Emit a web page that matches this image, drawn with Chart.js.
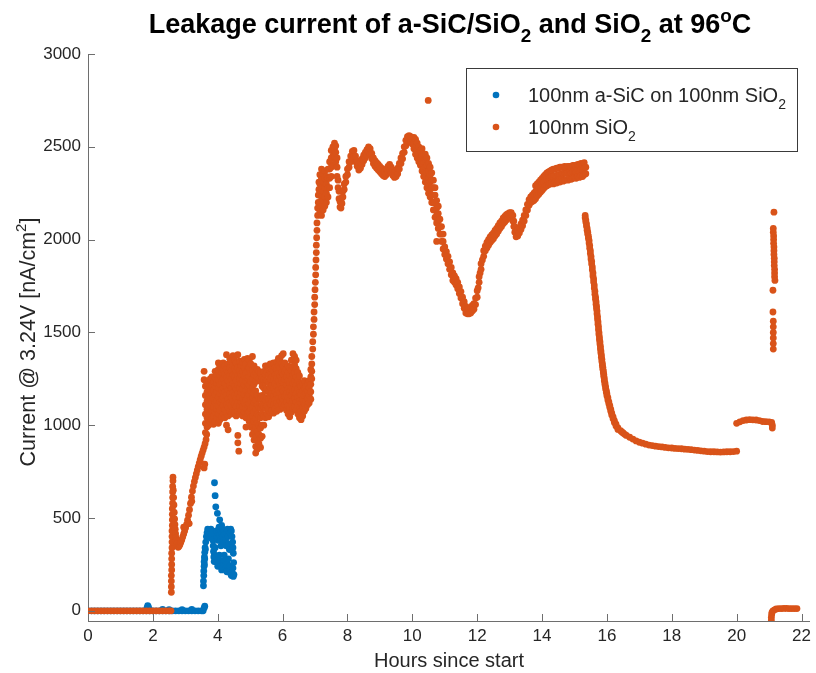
<!DOCTYPE html>
<html>
<head>
<meta charset="utf-8">
<script src="https://cdn.jsdelivr.net/npm/chart.js@4/dist/chart.umd.min.js"></script>
<style>
  html, body { margin: 0; padding: 0; background: #ffffff; overflow: hidden; }
  #wrap { width: 816px; height: 673px; }
</style>
</head>
<body>
<div id="wrap"><canvas id="c" width="816" height="673"></canvas></div>
<script>
// ---------------- DATA ----------------
const xTickValues = [0, 2, 4, 6, 8, 10, 12, 14, 16, 18, 20, 22];
const yTickValues = [0, 500, 1000, 1500, 2000, 2500, 3000];
const seriesLabels = ['100nm a-SiC on 100nm SiO2', '100nm SiO2'];

// rows: [hours, current, current, ...] (several readings at the same time)
const sicRows = [
  [0,0],[0.1,0],[0.2,0],[0.3,0],[0.4,0],[0.5,0],[0.6,0],[0.7,0],[0.8,0],[0.9,0],
  [1.0,0],[1.1,0],[1.2,0],[1.3,0],[1.4,0],[1.5,0],[1.6,0],[1.7,0],[1.8,0],[1.9,0],
  [2.0,0],[2.1,0],[2.2,0],[2.3,0],[2.4,0],[2.5,0],[2.6,0],[2.7,0],[2.8,0],[2.9,0],
  [3.0,0],[3.1,0],[3.2,0],[3.3,0],[3.4,0],[3.5,0],[3.55,0],
  [1.82,15],[1.84,28],[1.86,22],[1.88,10],[2.3,8],[2.5,6],[2.9,6],[3.2,8],[3.58,15],[3.6,25],
  [3.56,135,160],[3.57,190,215],[3.58,240,265],[3.59,290,250],[3.6,315,280],[3.61,340],[3.62,330],
  [3.63,370],[3.65,400],[3.67,420],[3.69,440],[3.71,430],[3.73,410],[3.75,395],[3.77,420],[3.79,440],[3.81,430],[3.83,410],
  [3.85,380],[3.86,350],[3.87,320],[3.88,290],[3.89,265],[3.9,300],[3.92,340],
  [3.9,690],[3.92,620],[3.94,560],[3.99,525],[4.06,490],[4.12,460],
  [3.96,430,290],[3.98,400,260],[4.0,380,240],[4.02,420,280],[4.04,450],[4.05,300],[4.06,410],[4.08,380,270],
  [4.1,350,240],[4.12,420,220],[4.14,440],[4.15,230],[4.16,400],[4.18,370,260],[4.2,430,300],[4.22,410,270],
  [4.24,380],[4.25,230],[4.26,350],[4.28,420,210],[4.3,440,250],[4.32,400],[4.33,280],[4.34,360],[4.36,330,240],
  [4.38,420,215],[4.4,440,200],[4.42,430,190],[4.44,400],[4.45,205],[4.46,370],[4.47,340,230],[4.48,310,185],[4.49,260],[4.5,195]
];

const sio2Rows = [
  // flat start
  [0,0],[0.1,0],[0.2,0],[0.3,0],[0.4,0],[0.5,0],[0.6,0],[0.7,0],[0.8,0],[0.9,0],
  [1.0,0],[1.1,0],[1.2,0],[1.3,0],[1.4,0],[1.5,0],[1.6,0],[1.7,0],[1.8,0],[1.9,0],
  [2.0,0],[2.1,0],[2.2,0],[2.3,0],[2.4,0],[2.5,0],[2.56,0],
  // first jump and V
  [2.57,100,130,160,190],[2.58,220,250,280,310],[2.59,340,370,400,430],[2.6,460,490,520,550],
  [2.61,580,610,640,670],[2.62,700,720],
  [2.63,650],[2.64,610],[2.65,570],[2.66,530],[2.67,495],[2.68,465],[2.69,440],[2.7,415],[2.71,395],
  [2.72,378],[2.74,360],[2.76,348],[2.78,342],[2.8,346],
  [2.83,355],[2.86,368],[2.89,382],[2.92,398],[2.95,414,450],[2.98,430],[3.01,447],[3.04,465],[3.07,488],
  [3.1,515],[3.12,470],[3.13,545],[3.16,578],[3.19,612],[3.2,590],[3.22,645],[3.25,672],[3.28,696],[3.31,718],
  [3.34,738],[3.37,758],[3.4,777],[3.43,796],[3.46,815],[3.49,833],[3.52,850],[3.55,866],[3.58,882,770],
  [3.6,790],[3.61,900],[3.64,922],[3.66,950],
  // noisy plateau
  [3.58,1245,1290],
  [3.62,960,1010,1060,1110,1160,1210],
  [3.67,990,1040,1085,1130,1180,1225],
  [3.72,1000,1050,1100,1150,1195,1240],
  [3.77,1015,1065,1110,1160,1210,1250],
  [3.82,1030,1075,1120,1170,1215,1260],
  [3.87,1005,1050,1100,1145,1190,1235],
  [3.92,1020,1070,1120,1165,1210,1255,1290],
  [3.97,1040,1085,1130,1180,1225,1270],
  [4.02,1010,1060,1105,1150,1200,1245,1300,1335],
  [4.07,1030,1080,1125,1170,1220,1265,1320],
  [4.12,1045,1095,1140,1190,1235,1285],
  [4.17,1060,1105,1150,1200,1250,1300,1335],
  [4.22,1040,1085,1130,1180,1225,1275,1320],
  [4.27,1000,1065,1110,1160,1205,1255,1300,1380],
  [4.32,975,1050,1095,1140,1190,1240,1285,1330],
  [4.37,1075,1120,1170,1215,1265,1310,1360],
  [4.42,1060,1105,1150,1200,1250,1295,1345],
  [4.47,1080,1125,1175,1225,1270,1320,1375],
  [4.52,1070,1115,1160,1210,1260,1305,1350],
  [4.57,1050,1100,1145,1195,1240,1290,1335],
  [4.62,905,945,1075,1120,1170,1215,1265,1310,1380],
  [4.65,860],
  [4.67,1060,1105,1150,1200,1250,1295,1345],
  [4.72,1080,1125,1175,1225,1275,1320],
  [4.77,1050,1100,1145,1195,1240,1290,1340],
  [4.82,1070,1120,1165,1215,1265,1310,1355],
  [4.87,990,1040,1090,1135,1185,1235,1280,1330],
  [4.92,1065,1110,1160,1210,1255,1305,1360],
  [4.97,1020,1070,1115,1165,1215,1260,1310,1350],
  [5.02,990,1040,1090,1135,1185,1235,1280,1330],
  [5.07,950,1000,1050,1100,1150,1200,1250,1300,1370],
  [5.12,920,970,1020,1070,1120,1170,1220,1270,1320],
  [5.17,850,885,935,985,1035,1085,1135,1185,1235,1285],
  [5.22,870,915,965,1010,1060,1110,1160,1260,1300],
  [5.27,900,950,1000,1050,1095,1145,1250,1290],
  [5.32,880,930,985,1040,1090,1140,1235,1280],
  [5.37,940,1000,1060,1110,1160,1210,1255],
  [5.42,1000,1050,1100,1150,1200,1245,1290],
  [5.47,1040,1090,1135,1185,1230,1275,1320],
  [5.52,1060,1105,1150,1195,1240,1285,1320],
  [5.57,1045,1090,1140,1185,1230,1270],
  [5.62,1070,1115,1160,1205,1250,1290,1330],
  [5.67,1080,1125,1170,1215,1260,1300],
  [5.72,1065,1110,1155,1200,1245,1290,1335],
  [5.77,1090,1135,1180,1225,1270,1310],
  [5.82,1075,1120,1165,1210,1255,1300,1340],
  [5.87,1100,1145,1190,1235,1280,1320,1360],
  [5.92,1085,1130,1175,1220,1265,1310,1350],
  [5.97,1110,1150,1195,1240,1285,1330,1375],
  [6.02,1095,1140,1185,1230,1275,1320,1385],
  [6.07,1110,1155,1200,1245,1290,1335],
  [6.12,1080,1125,1170,1215,1260,1300],
  [6.17,1060,1105,1150,1195,1240,1285,1320],
  [6.22,1045,1090,1135,1180,1225,1270,1310],
  [6.27,1070,1115,1160,1205,1250,1295,1350],
  [6.32,1090,1135,1180,1225,1270,1315,1385],
  [6.37,1100,1145,1190,1235,1280,1325,1370],
  [6.42,1080,1125,1170,1215,1260,1305,1350],
  [6.47,1060,1105,1150,1195,1240,1285],
  [6.52,1040,1085,1130,1175,1220,1265],
  [6.57,1030,1075,1120,1165,1210],
  [6.62,1050,1095,1140,1185,1225],
  [6.67,1075,1115,1160,1200,1240],
  [6.72,1090,1130,1170,1210],
  [6.77,1110,1145,1185,1225],
  [6.82,1120,1160,1200,1240],
  [6.87,1140,1180,1220,1260,1300],
  [6.9,1250,1290,1330,1370],
  // second jump
  [6.93,1410,1450],[6.95,1490,1530],[6.97,1570,1610],[6.99,1650,1690],[7.0,1730],[7.01,1770],
  [7.02,1810,1850],[7.03,1890],[7.04,1930,1970],[7.05,2010],[7.06,2050,2090],[7.08,2130,2170],
  [7.1,2200,2240],[7.12,2270,2310],
  [7.15,2150,2200,2250,2300,2350],
  [7.2,2130,2180,2230,2280,2330,2380],
  [7.25,2160,2210,2260,2310,2350],
  [7.3,2180,2230,2280,2330,2370],
  [7.35,2200,2250,2300,2340],
  [7.4,2230,2280,2330,2380],
  [7.45,2280,2330,2380,2420],
  [7.5,2340,2390,2440,2480],
  [7.55,2400,2450,2500],
  [7.6,2450,2490,2520],
  [7.64,2420,2470,2505],
  [7.68,2340,2390,2440],
  [7.71,2280,2320],[7.74,2220,2260],[7.77,2175,2205],[7.8,2170,2200],[7.83,2195,2225],
  [7.86,2230,2260],[7.9,2270,2300],[7.95,2310,2340],[8.0,2350,2380],[8.05,2390,2420],
  [8.1,2420,2450],[8.15,2445,2475],[8.2,2450,2480],[8.25,2420,2450],[8.3,2395,2425],
  [8.35,2375,2405],[8.4,2385,2415],[8.45,2405,2435],[8.5,2425,2455],[8.55,2440,2470],
  [8.6,2455,2485],[8.65,2470,2500],[8.7,2460,2490],[8.75,2435,2465],[8.8,2410,2440],
  [8.85,2395,2425],[8.9,2385,2415],[8.95,2375,2405],[9.0,2365,2395],[9.05,2355,2385],
  [9.1,2345,2375],[9.15,2340,2370],[9.2,2350,2380],[9.25,2365,2395],[9.3,2375,2405],
  [9.35,2360,2390],[9.4,2345,2375],[9.45,2335,2365],[9.5,2340,2370],[9.55,2355,2385],
  [9.6,2380,2410],[9.65,2410,2440],[9.7,2435,2465],[9.75,2470,2500],[9.8,2505,2535],
  [9.85,2525,2555],[9.9,2530,2560],[9.95,2525,2555],[10.0,2515,2545],
  [10.05,2490,2520,2550],[10.1,2460,2500,2540],[10.15,2440,2480,2520],[10.2,2420,2460,2500],
  [10.25,2400,2440,2480],[10.3,2370,2410,2450,2490],[10.35,2340,2380,2420,2460],
  [10.4,2310,2350,2390,2430,2460],[10.45,2280,2320,2360,2400,2440],[10.49,2750],
  [10.5,2250,2290,2330,2370,2410],[10.55,2230,2270,2310,2350,2390],[10.6,2200,2240,2280,2320,2360],
  [10.65,2160,2200,2240,2280,2320],[10.7,2120,2160,2200,2240,2280],[10.75,1990,2090,2130,2170,2210],
  [10.8,2060,2100,2140,2180],[10.85,2030,2070,2110],[10.9,1990,2030,2070],[10.95,1950,1990,2030],
  [11.0,1920,1960],[11.05,1895,1935],[11.1,1870,1910],[11.15,1840,1880],[11.2,1810,1850],
  [11.25,1780,1820],[11.3,1770,1805],[11.35,1755,1790],[11.4,1735,1770],[11.45,1710,1745],
  [11.5,1685,1720],[11.55,1655,1690],[11.6,1630,1665],[11.65,1605,1640],[11.7,1600,1630],
  [11.75,1600,1630],[11.8,1605,1635],[11.85,1615,1645],[11.9,1625,1655],[11.95,1650,1685],
  [12.0,1690,1725],[12.03,1740],[12.06,1770,1800],[12.09,1820],[12.12,1840,1870],[12.16,1890],
  [12.2,1910,1940],[12.25,1940,1965],[12.3,1955,1985],[12.35,1970,2000],[12.4,1985,2015],
  [12.45,1995,2025],[12.5,2005,2035],[12.55,2020,2050],[12.6,2030,2060],[12.65,2045,2075],
  [12.7,2060,2090],[12.75,2070,2100],[12.8,2085,2115],[12.85,2095,2125],[12.9,2105,2135],
  [12.95,2115,2140],[13.0,2120,2145],[13.05,2120,2145],[13.1,2100,2130],[13.13,2070,2100],
  [13.16,2040,2070],[13.2,2015,2045],[13.25,2020,2050],[13.3,2035,2065],[13.35,2055,2085],
  [13.4,2075,2105],[13.45,2100,2130],[13.5,2130,2160],[13.55,2160,2190],[13.6,2185,2215],
  [13.65,2200,2230],[13.7,2205,2240],[13.75,2210,2250],[13.8,2220,2260,2290],[13.85,2235,2270,2300],
  [13.9,2245,2280,2310],[13.95,2255,2290,2320],[14.0,2265,2300,2330],[14.05,2275,2310,2340],
  [14.1,2285,2320,2350],[14.15,2290,2325,2360],[14.2,2295,2330,2365],[14.25,2300,2335,2370],
  [14.3,2305,2340,2375],[14.35,2300,2340,2380],[14.4,2310,2345,2380],[14.45,2305,2345,2385],
  [14.5,2315,2350,2385],[14.55,2310,2350,2390],[14.6,2320,2355,2390],[14.65,2315,2355,2390],
  [14.7,2320,2360,2395],[14.75,2325,2360,2390],[14.8,2320,2360,2395],[14.85,2330,2365,2395],
  [14.9,2325,2360,2390],[14.95,2330,2365,2400],[15.0,2335,2370,2400],[15.05,2330,2365,2395],
  [15.1,2340,2375,2405],[15.15,2335,2370,2400],[15.2,2345,2380,2410],[15.25,2340,2375,2405],
  [15.3,2350,2385,2415],[15.35,2355,2390],
  // decay
  [15.33,2130,2118],[15.35,2105,2095],[15.37,2085,2073],[15.39,2062,2051],[15.41,2040,2029],
  [15.43,2018,2007],[15.45,1996,1982],[15.47,1968,1954],[15.49,1940,1925],[15.51,1910,1896],
  [15.53,1882,1868],[15.55,1853,1837],[15.57,1820,1804],[15.59,1788,1772],[15.61,1755,1739],
  [15.63,1722,1706],[15.65,1690,1678],[15.665,1665,1652],[15.68,1640,1628],[15.695,1615,1600],
  [15.71,1585,1572],[15.725,1558,1544],[15.74,1530,1515],[15.755,1500,1488],[15.77,1475,1462],
  [15.785,1450,1438],[15.8,1425,1412],[15.815,1400,1389],[15.83,1378,1366],[15.845,1355,1343],
  [15.86,1332,1322],[15.875,1312,1302],[15.89,1292,1282],[15.905,1272,1262],[15.92,1252,1240],
  [15.94,1228,1218],[15.96,1207,1197],[15.98,1188,1179],[16.0,1170,1159],[16.03,1148,1136],
  [16.06,1125,1115],[16.09,1105,1095],[16.12,1085,1075],[16.15,1065,1055],[16.19,1045,1035],
  [16.23,1025,1015],[16.28,1005,995],[16.34,985,977],[16.42,970],[16.46,964],
  [16.5,958],[16.55,951],[16.6,945],[16.7,935],[16.8,925],[16.9,915],[17.0,908],[17.1,903],[17.2,898],
  [17.3,893],[17.4,890],[17.5,887],[17.6,885],[17.7,883],[17.8,880],[17.9,878],[18.0,877],
  [18.1,875],[18.2,874],[18.3,873],[18.4,871],[18.5,870],[18.6,868],[18.7,866],[18.8,864],
  [18.9,862],[19.0,860],[19.1,858],[19.2,857],[19.3,857],[19.4,856],[19.5,855],[19.6,856],
  [19.7,857],[19.8,857],[19.9,858],[20.0,860],
  // step at ~1020
  [20.0,1010],[20.1,1018],[20.2,1025],[20.3,1028],[20.4,1030],[20.5,1029],[20.6,1028],[20.7,1025],
  [20.8,1020],[20.9,1019],[21.0,1018],[21.08,1015],[21.1,1000,985],
  // spike column
  [21.15,2148],[21.13,2060,2040],[21.14,2020,2000,1980],[21.15,1960,1940,1920],[21.16,1900,1880,1860],
  [21.17,1840,1820,1800],[21.18,1780],[21.12,1727,1610],[21.13,1560,1530,1500,1470,1440,1410],
  // final low segment
  [21.07,-50,-35],[21.08,-20],[21.09,-8],[21.12,0],[21.17,5],[21.22,10],[21.3,12],[21.38,12],
  [21.46,13],[21.54,13],[21.62,12],[21.7,12],[21.78,12],[21.86,12]
];

function rowsToPoints(rows) {
  const pts = [];
  rows.forEach(r => { for (let i = 1; i < r.length; i++) pts.push({ x: r[0], y: r[i] }); });
  return pts;
}

// ---------------- STYLE ----------------
const FONT = "'Liberation Sans', Helvetica, Arial, sans-serif";
const TEXT = '#262626';
const AXIS = '#6e6e6e';
const BLUE = '#0072BD';
const ORANGE = '#D95319';

function partsWidth(ctx, parts, size, weight) {
  let w = 0;
  parts.forEach(p => {
    const s = (p.sub || p.sup) ? size * 0.7 : size;
    ctx.font = weight + ' ' + s + 'px ' + FONT;
    w += ctx.measureText(p.t).width;
  });
  return w;
}
function drawParts(ctx, parts, x, y, size, weight, align) {
  const w = partsWidth(ctx, parts, size, weight);
  let cx = align === 'center' ? x - w / 2 : x;
  ctx.textBaseline = 'alphabetic';
  ctx.textAlign = 'left';
  parts.forEach(p => {
    const s = (p.sub || p.sup) ? size * 0.7 : size;
    const dy = p.sub ? size * 0.33 : (p.sup ? -size * 0.42 : 0);
    ctx.font = weight + ' ' + s + 'px ' + FONT;
    ctx.fillText(p.t, cx, y + dy);
    cx += ctx.measureText(p.t).width;
  });
}

const titleParts = [{t:'Leakage current of a-SiC/SiO'},{t:'2',sub:true},{t:' and SiO'},{t:'2',sub:true},{t:' at 96'},{t:'o',sup:true},{t:'C'}];
const yTitleParts = [{t:'Current @ 3.24V [nA/cm'},{t:'2',sup:true},{t:']'}];
const legendParts = [
  [{t:'100nm a-SiC on 100nm SiO'},{t:'2',sub:true}],
  [{t:'100nm SiO'},{t:'2',sub:true}]
];

const decor = {
  id: 'decor',
  afterDraw(chart) {
    const ctx = chart.ctx;
    const xs = chart.scales.x, ys = chart.scales.y;
    const area = chart.chartArea;
    ctx.save();
    // inward tick marks
    ctx.strokeStyle = AXIS;
    ctx.lineWidth = 1;
    ctx.beginPath();
    xTickValues.forEach(v => {
      const px = Math.round(xs.getPixelForValue(v)) + 0.5;
      ctx.moveTo(px, area.bottom);
      ctx.lineTo(px, area.bottom - 7);
    });
    yTickValues.forEach(v => {
      const py = Math.round(ys.getPixelForValue(v)) + 0.5;
      ctx.moveTo(area.left, py);
      ctx.lineTo(area.left + 7, py);
    });
    ctx.stroke();

    // title
    ctx.fillStyle = '#000000';
    drawParts(ctx, titleParts, 450, 33, 27, 'bold', 'center');

    // y axis title
    ctx.fillStyle = TEXT;
    ctx.save();
    ctx.translate(35, 342);
    ctx.rotate(-Math.PI / 2);
    drawParts(ctx, yTitleParts, 0, 0, 21.5, 'normal', 'center');
    ctx.restore();

    // legend
    const lx = 466, ly = 68, lw = 331, lh = 83;
    ctx.fillStyle = '#ffffff';
    ctx.fillRect(lx, ly, lw, lh);
    ctx.strokeStyle = '#3a3a3a';
    ctx.lineWidth = 1;
    ctx.strokeRect(lx + 0.5, ly + 0.5, lw, lh);
    const rowsY = [95, 127];
    chart.data.datasets.forEach((ds, i) => {
      ctx.fillStyle = ds.backgroundColor;
      ctx.beginPath();
      ctx.arc(496, rowsY[i], 3.3, 0, Math.PI * 2);
      ctx.fill();
      ctx.fillStyle = TEXT;
      drawParts(ctx, legendParts[i], 528, rowsY[i] + 7, 20, 'normal', 'left');
    });
    ctx.restore();
  }
};

new Chart(document.getElementById('c'), {
  type: 'scatter',
  data: {
    datasets: [
      { label: seriesLabels[0], data: rowsToPoints(sicRows), backgroundColor: BLUE, borderWidth: 0,
        pointRadius: 3.4, pointHoverRadius: 3.4, order: 1 },
      { label: seriesLabels[1], data: rowsToPoints(sio2Rows), backgroundColor: ORANGE, borderWidth: 0,
        pointRadius: 3.4, pointHoverRadius: 3.4, order: 0 }
    ]
  },
  options: {
    responsive: false,
    animation: false,
    events: [],
    layout: { padding: { top: 54, right: 0, left: 0, bottom: 0 } },
    plugins: { legend: { display: false }, title: { display: false }, tooltip: { enabled: false } },
    scales: {
      x: {
        type: 'linear', min: 0, max: 22.26,
        afterBuildTicks: s => { s.ticks = xTickValues.map(v => ({ value: v })); },
        afterFit: s => { s.height = 52; },
        grid: { display: false, drawTicks: false, tickLength: 0 },
        border: { display: true, color: AXIS, width: 1 },
        ticks: { color: TEXT, padding: 5, maxRotation: 0, autoSkip: false, font: { family: FONT, size: 17 },
                 callback: v => String(v) },
        title: { display: true, text: 'Hours since start', color: TEXT, padding: { top: 0, bottom: 0 },
                 font: { family: FONT, size: 20 } }
      },
      y: {
        type: 'linear', min: -55, max: 3000,
        afterBuildTicks: s => { s.ticks = yTickValues.map(v => ({ value: v })); },
        afterFit: s => { s.width = 88; },
        grid: { display: false, drawTicks: false, tickLength: 0 },
        border: { display: true, color: AXIS, width: 1 },
        ticks: { color: TEXT, padding: 7, autoSkip: false, font: { family: FONT, size: 17 },
                 callback: v => String(v) }
      }
    }
  },
  plugins: [decor]
});
</script>
</body>
</html>
